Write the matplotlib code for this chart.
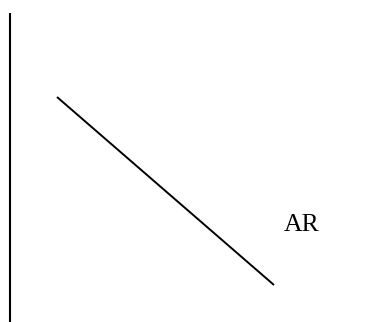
import matplotlib.pyplot as plt

# axis line and the downward sloping curve, in pixel coordinates of the drawing
axis_x = [9.5, 9.5]
axis_y = [13, 322]
curve_x = [57, 274]
curve_y = [97, 285]
label = "AR"
label_pos = (283.5, 231)

fig = plt.figure(figsize=(3.68, 3.22), dpi=100)
ax = fig.add_axes([0, 0, 1, 1])
ax.set_xlim(0, 368)
ax.set_ylim(322, 0)
ax.axis("off")

ax.plot(axis_x, axis_y, color="black", linewidth=1.5, solid_capstyle="butt")
ax.plot(curve_x, curve_y, color="black", linewidth=1.4, solid_capstyle="butt")
ax.text(label_pos[0], label_pos[1], label, fontsize=18.5, family="Liberation Serif",
        ha="left", va="baseline")

fig.savefig("out.png", dpi=100)
